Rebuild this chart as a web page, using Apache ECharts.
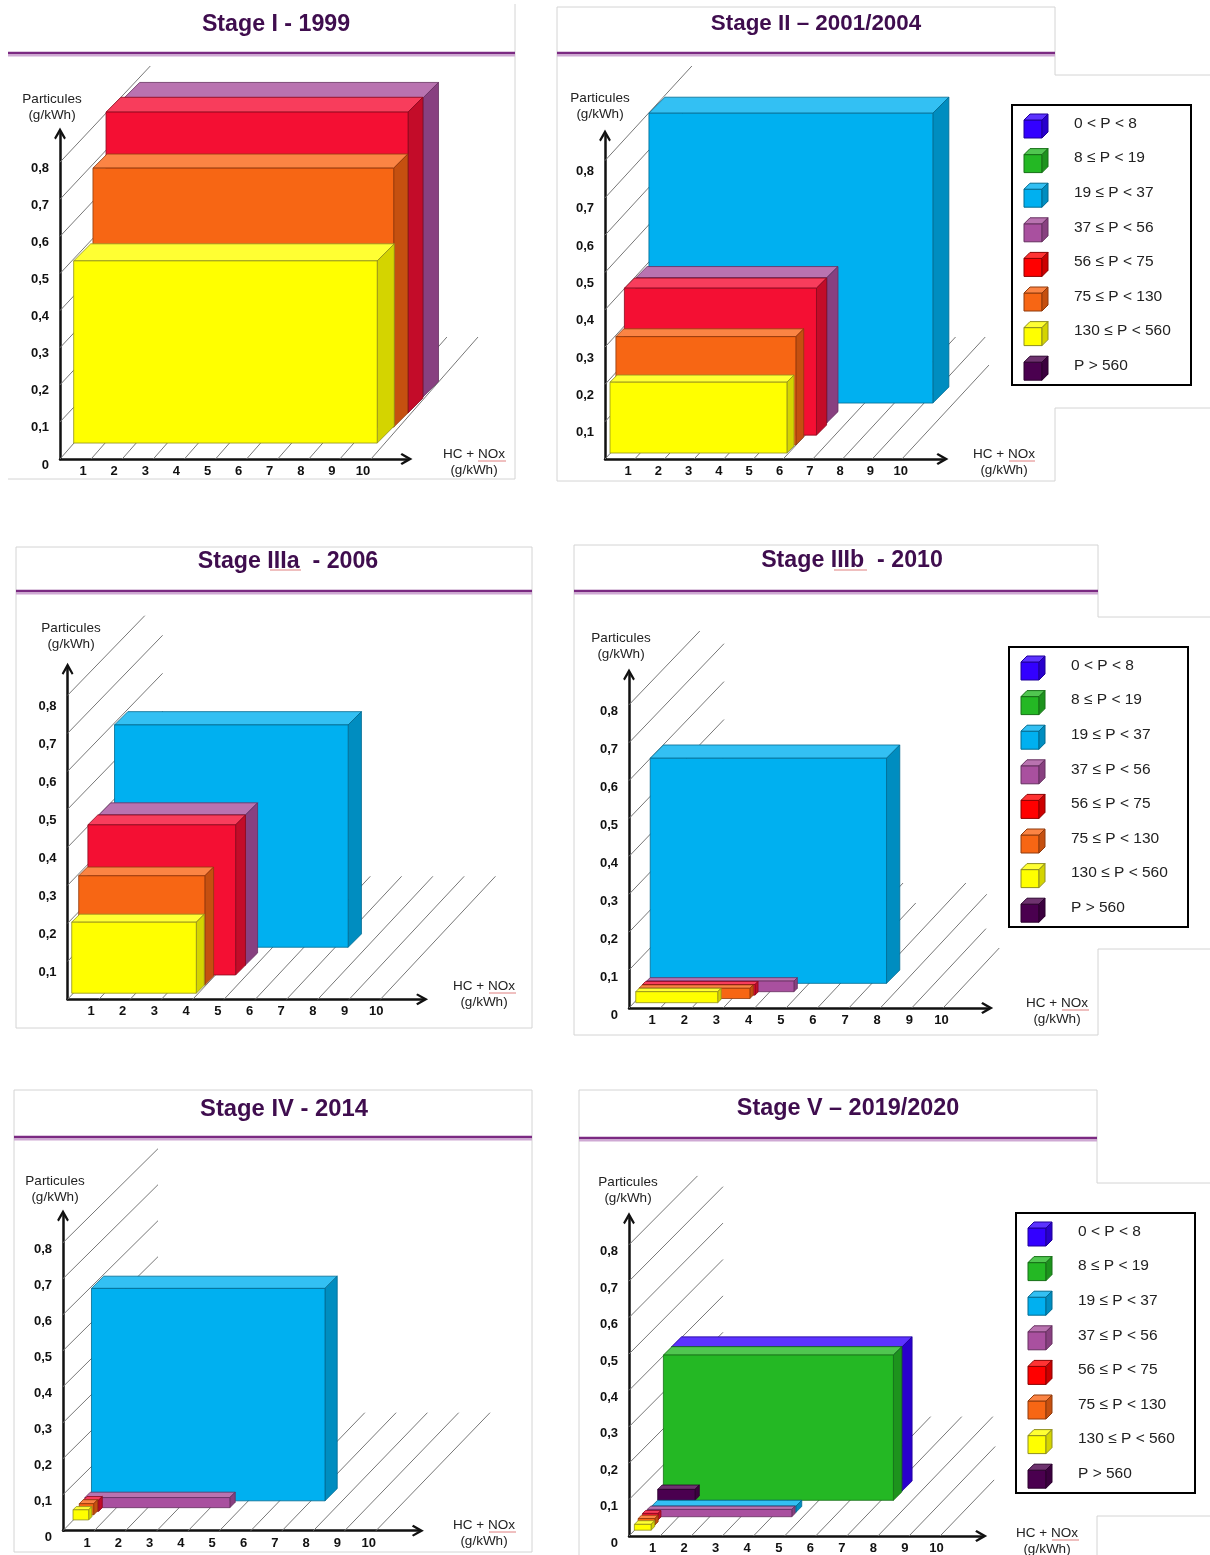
<!DOCTYPE html>
<html>
<head>
<meta charset="utf-8">
<title>Stages</title>
<script src="https://cdn.jsdelivr.net/npm/echarts@6/dist/echarts.min.js"></script>
<style>
  html, body { margin: 0; padding: 0; background: #fff; }
  #main { width: 1210px; height: 1555px; }
</style>
</head>
<body>
<div id="main"></div>
<script>
const FONT = '"Liberation Sans", Arial, sans-serif';

const xTickLabels = ['1', '2', '3', '4', '5', '6', '7', '8', '9', '10'];
const yTickLabels = ['0', '0,1', '0,2', '0,3', '0,4', '0,5', '0,6', '0,7', '0,8'];
const legendLabels = ['0 < P < 8', '8 ≤ P < 19', '19 ≤ P < 37', '37 ≤ P < 56', '56 ≤ P < 75', '75 ≤ P < 130', '130 ≤ P < 560', 'P > 560'];

// power classes, same order as the legend
const VIOLET = 0, GREEN = 1, CYAN = 2, PURPLE = 3, RED = 4, ORANGE = 5, YELLOW = 6, DARK = 7;

// each row: class, x start, HC+NOx width, y start, particules height, depth. back to front
const stage1 = [
  [PURPLE, 2.06, 9.61, 0.167, 0.806, 0.042],
  [RED, 1.48, 9.71, 0.124, 0.811, 0.040],
  [ORANGE, 1.06, 9.67, 0.086, 0.698, 0.038],
  [YELLOW, 0.44, 9.76, 0.043, 0.491, 0.046]
];
const stage2 = [
  [CYAN, 1.45, 9.37, 0.150, 0.777, 0.043],
  [PURPLE, 1.02, 6.30, 0.097, 0.389, 0.030],
  [RED, 0.64, 6.34, 0.064, 0.394, 0.027],
  [ORANGE, 0.36, 5.94, 0.038, 0.290, 0.021],
  [YELLOW, 0.165, 5.84, 0.016, 0.190, 0.019]
];
const stage3a = [
  [CYAN, 1.48, 7.37, 0.137, 0.585, 0.035],
  [PURPLE, 0.98, 4.63, 0.090, 0.395, 0.032],
  [RED, 0.64, 4.66, 0.064, 0.395, 0.026],
  [ORANGE, 0.35, 3.98, 0.038, 0.287, 0.023],
  [YELLOW, 0.13, 3.93, 0.016, 0.187, 0.021]
];
const stage3b = [
  [CYAN, 0.66, 7.35, 0.065, 0.594, 0.035],
  [PURPLE, 0.55, 4.58, 0.043, 0.028, 0.009],
  [RED, 0.42, 3.50, 0.034, 0.028, 0.008],
  [ORANGE, 0.31, 3.45, 0.025, 0.027, 0.009],
  [YELLOW, 0.21, 2.55, 0.014, 0.029, 0.009]
];
const stage4 = [
  [CYAN, 0.91, 7.46, 0.083, 0.590, 0.034],
  [PURPLE, 0.70, 4.63, 0.064, 0.028, 0.015],
  [RED, 0.65, 0.49, 0.054, 0.031, 0.010],
  [ORANGE, 0.52, 0.46, 0.044, 0.031, 0.011],
  [YELLOW, 0.32, 0.50, 0.030, 0.028, 0.009]
];
const stage5 = [
  [VIOLET, 1.35, 7.31, 0.124, 0.396, 0.027],
  [GREEN, 1.09, 7.29, 0.098, 0.399, 0.023],
  [DARK, 0.91, 1.18, 0.098, 0.030, 0.012],
  [CYAN, 0.72, 4.57, 0.065, 0.017, 0.016],
  [PURPLE, 0.58, 4.58, 0.053, 0.020, 0.009],
  [RED, 0.43, 0.49, 0.044, 0.018, 0.008],
  [ORANGE, 0.29, 0.53, 0.030, 0.018, 0.009],
  [YELLOW, 0.17, 0.53, 0.016, 0.016, 0.010]
];

const colors = [
  { front: '#3300ff', top: '#5c33ff', side: '#2900cc', line: '#1f0099' },
  { front: '#24b824', top: '#50c650', side: '#1d931d', line: '#177017' },
  { front: '#00b0f0', top: '#33c0f3', side: '#008dc0', line: '#006a90' },
  { front: '#a9509f', top: '#b973b0', side: '#884080', line: '#663060' },
  { front: '#f40f33', top: '#f83d5c', side: '#c30c29', line: '#8a0a1e' },
  { front: '#f76614', top: '#fb8444', side: '#c55010', line: '#8f3a0c' },
  { front: '#ffff00', top: '#ffff33', side: '#d4d400', line: '#8f8f20' },
  { front: '#4a004f', top: '#6e336f', side: '#3b003f', line: '#2a002d' }
];
const legendRed = { front: '#ff0000', top: '#ff3333', side: '#cc0000', line: '#8a0000' };

const panels = [
  { title: 'Stage I - 1999', titleSize: 23.2, boxes: stage1, cx: 276, ty: 24, lineY: 53, x1: 8, x2: 515,
    ox: 60, oy: 459, w: 352, h: 331, sx: 31.1, sy: 371, shiftX: 8, shiftY: 6, pitch: 1,
    fdx: 107, fdy: 122, wdx: 92, wdy: 98, wallTop: 66,
    pName: [52, 107], hName: [474, 462], nox: [478, 506, 461],
    frame: [[[515, 4], [515, 479], [8, 479]]] },
  { title: 'Stage II – 2001/2004', titleSize: 22.4, boxes: stage2, cx: 816, ty: 23, lineY: 53, x1: 557, x2: 1055,
    ox: 605, oy: 459, w: 343, h: 329, sx: 30.3, sy: 373, shiftX: 7.3, shiftY: 11, pitch: 0.98,
    fdx: 113, fdy: 122, wdx: 90, wdy: 98, wallTop: 66, floorLen: { 10: 0.77 },
    pName: [600, 106], hName: [1004, 462], nox: [1009, 1035, 461], legend: [1012, 105],
    frame: [[[1210, 75], [1055, 75], [1055, 7], [557, 7], [557, 481], [1055, 481], [1055, 408], [1210, 408]]] },
  { title: 'Stage IIIa  - 2006', titleSize: 23.2, boxes: stage3a, cx: 288, ty: 561, lineY: 591, x1: 16, x2: 532,
    ox: 67.6, oy: 999.3, w: 360, h: 336, sx: 31.7, sy: 380, shiftX: 8.3, shiftY: 11.5, pitch: 0.987,
    fdx: 115, fdy: 123, wdx: 95, wdy: 98, wallTop: 615.7,
    pName: [71, 636], hName: [484, 994], nox: [489, 516, 993], squiggle: [270, 301, 570],
    frame: [[[16, 547], [532, 547], [532, 1028], [16, 1028], [16, 547]]] },
  { title: 'Stage IIIb  - 2010', titleSize: 23.2, boxes: stage3b, cx: 852, ty: 560, lineY: 591, x1: 574, x2: 1098,
    ox: 629, oy: 1008, w: 363.7, h: 339, sx: 32.15, sy: 379, shiftX: 9, shiftY: 7, pitch: 0.977,
    fdx: 117, fdy: 125, wdx: 95, wdy: 99, wallTop: 631, floorLen: { 6: 0.84, 8: 0.91, 9: 0.635, 10: 0.48 },
    pName: [621, 646], hName: [1057, 1011], nox: [1062, 1089, 1010], legend: [1009, 647], squiggle: [834, 867, 570],
    frame: [[[1210, 617], [1098, 617], [1098, 545], [574, 545], [574, 1035], [1098, 1035], [1098, 949], [1210, 949]]] },
  { title: 'Stage IV - 2014', titleSize: 23.8, boxes: stage4, cx: 284, ty: 1108, lineY: 1137, x1: 14, x2: 532,
    ox: 63, oy: 1530.7, w: 360.4, h: 320.7, sx: 31.3, sy: 360, shiftX: 7.3, shiftY: 7, pitch: 1,
    fdx: 114, fdy: 118, wdx: 95, wdy: 94, wallTop: 1148,
    pName: [55, 1189], hName: [484, 1533], nox: [489, 516, 1532],
    frame: [[[14, 1090], [532, 1090], [532, 1552], [14, 1552], [14, 1090]]] },
  { title: 'Stage V – 2019/2020', titleSize: 23.4, boxes: stage5, cx: 848, ty: 1108, lineY: 1138, x1: 579, x2: 1097,
    ox: 629, oy: 1537.7, w: 357.7, h: 325, sx: 31.55, sy: 366, shiftX: 8, shiftY: 7, pitch: 0.986,
    fdx: 115, fdy: 120, wdx: 94, wdy: 95, wallTop: 1175.7, floorLen: { 9: 0.75, 10: 0.47 },
    pName: [628, 1190], hName: [1047, 1541], nox: [1052, 1079, 1540], legend: [1016, 1213],
    frame: [[[1210, 1183], [1097, 1183], [1097, 1090], [579, 1090], [579, 1555]], [[1097, 1555], [1097, 1516], [1210, 1516]]] }
];

const myChart = echarts.init(document.getElementById('main'));

function text(str, x, y, size, fill, align, bold) {
  return {
    type: 'text', silent: true, z: 20,
    style: { text: str, x: x, y: y, fill: fill, align: align || 'center', verticalAlign: 'middle',
      font: (bold ? 'bold ' : '') + size + 'px ' + FONT }
  };
}
function poly(points, fill, stroke, lineWidth) {
  return {
    type: 'polygon', silent: true, z: 20,
    shape: { points: points },
    style: { fill: fill, stroke: stroke, lineWidth: lineWidth }
  };
}
function line(points, stroke, lineWidth) {
  return {
    type: 'polyline', silent: true, z: 1,
    shape: { points: points },
    style: { fill: null, stroke: stroke, lineWidth: lineWidth }
  };
}

function legendGraphics(left, top) {
  const out = [{
    type: 'rect', silent: true, z: 19,
    shape: { x: left, y: top, width: 179, height: 280 },
    style: { fill: '#fff', stroke: '#000', lineWidth: 2 }
  }];
  legendLabels.forEach(function (label, i) {
    const c = i === RED ? legendRed : colors[i];
    const x = left + 12, y = top + 15 + i * 34.6, s = 18, d = 6;
    out.push(poly([[x, y], [x + s, y], [x + s, y + s], [x, y + s]], c.front, c.line, 1));
    out.push(poly([[x, y], [x + s, y], [x + s + d, y - d], [x + d, y - d]], c.top, c.line, 1));
    out.push(poly([[x + s, y], [x + s + d, y - d], [x + s + d, y + s - d], [x + s, y + s]], c.side, c.line, 1));
    out.push(text(label, left + 62, top + 18.5 + i * 34.6, 15.5, '#222', 'left'));
  });
  return out;
}

const graphics = [];
panels.forEach(function (p) {
  p.frame.forEach(function (pts) { graphics.push(line(pts, '#d4d4d4', 1)); });
  graphics.push(line([[p.x1, p.lineY + 2.5], [p.x2, p.lineY + 2.5]], '#cfa9d4', 2));
  graphics.push(line([[p.x1, p.lineY], [p.x2, p.lineY]], '#7b2a82', 2.4));
  graphics.push(text('Particules', p.pName[0], p.pName[1] - 8, 13.5, '#222'));
  graphics.push(text('(g/kWh)', p.pName[0], p.pName[1] + 8, 13.5, '#222'));
  graphics.push(text('HC + NOx', p.hName[0], p.hName[1] - 8, 13.5, '#222'));
  graphics.push(text('(g/kWh)', p.hName[0], p.hName[1] + 8, 13.5, '#222'));
  graphics.push(line([[p.nox[0], p.nox[2]], [p.nox[1], p.nox[2]]], '#e08080', 1));
  if (p.squiggle) {
    graphics.push(line([[p.squiggle[0], p.squiggle[2]], [p.squiggle[1], p.squiggle[2]]], '#e08080', 1));
  }
  if (p.legend) {
    legendGraphics(p.legend[0], p.legend[1]).forEach(function (g) { graphics.push(g); });
  }
});

// hatch rows: kind (0 floor, 1 wall), tick
function hatchRows() {
  const rows = [];
  for (let k = 0; k <= 10; k++) rows.push([0, k]);
  for (let v = 1; v < yTickLabels.length; v++) rows.push([1, v / 10]);
  return rows;
}

function renderHatch(p) {
  return function (params, api) {
    const kind = api.value(0), tick = api.value(1);
    let from, to;
    if (kind === 0) {
      const t = (p.floorLen && p.floorLen[tick]) || 1;
      const base = tick * p.pitch;
      from = api.coord([base, 0]);
      to = api.coord([base + t * p.fdx / p.sx, t * p.fdy / p.sy]);
    } else {
      const topV = (p.oy - p.wallTop) / p.sy;
      const t = Math.min(1, (topV - tick) / (p.wdy / p.sy));
      from = api.coord([0, tick]);
      to = api.coord([t * p.wdx / p.sx, tick + t * p.wdy / p.sy]);
    }
    return {
      type: 'line',
      shape: { x1: from[0], y1: from[1], x2: to[0], y2: to[1] },
      style: { stroke: '#777', lineWidth: 1 }
    };
  };
}

function renderBox(p) {
  return function (params, api) {
    const c = colors[api.value(0)];
    const x0 = api.value(1), x1 = x0 + api.value(2);
    const y0 = api.value(3), y1 = y0 + api.value(4);
    const d = api.value(5);
    const dx = d * p.sy / p.sx;
    const a = api.coord([x0, y0]), b = api.coord([x1, y0]), e = api.coord([x1, y1]), f = api.coord([x0, y1]);
    const g = api.coord([x1 + dx, y0 + d]), h = api.coord([x1 + dx, y1 + d]), i = api.coord([x0 + dx, y1 + d]);
    const face = function (points, fill) {
      return { type: 'polygon', shape: { points: points }, style: { fill: fill, stroke: c.line, lineWidth: 0.8 } };
    };
    return {
      type: 'group',
      children: [face([f, e, h, i], c.top), face([b, g, h, e], c.side), face([a, b, e, f], c.front)]
    };
  };
}

const ARROW = 'path://M5 0L10 9 8.6 10.2 5 4.2 1.4 10.2 0 9Z';
// the arrow symbol sticks out past the axis end by this much
const ARROW_OUT = 5.5;

const option = {
  animation: false,
  backgroundColor: '#fff',
  title: panels.map(function (p) {
    return {
      text: p.title, left: p.cx, top: p.ty - 10.5, textAlign: 'center', padding: 0,
      textStyle: { fontFamily: FONT, fontSize: p.titleSize, fontWeight: 'bold', color: '#3f0d4e' }
    };
  }),
  graphic: { elements: graphics },
  grid: panels.map(function (p) {
    return { left: p.ox, top: p.oy - p.h + ARROW_OUT, width: p.w - ARROW_OUT, height: p.h - ARROW_OUT };
  }),
  xAxis: panels.map(function (p, i) {
    return {
      type: 'value', gridIndex: i, min: 0, max: (p.w - ARROW_OUT) / p.sx, interval: 1,
      splitLine: { show: false }, axisTick: { show: false },
      axisLine: { onZero: false, symbol: ['none', ARROW], symbolSize: [12, 12], lineStyle: { color: '#111', width: 2.5 } },
      axisLabel: {
        margin: 6, color: '#111', fontFamily: FONT, fontSize: 13, fontWeight: 'bold',
        padding: [0, 2 * p.shiftX, 0, 0], showMaxLabel: false,
        formatter: function (v) { return xTickLabels[v - 1] || ''; }
      }
    };
  }),
  yAxis: panels.map(function (p, i) {
    return {
      type: 'value', gridIndex: i, min: 0, max: (p.h - ARROW_OUT) / p.sy, interval: 0.1,
      splitLine: { show: false }, axisTick: { show: false },
      axisLine: { onZero: false, symbol: ['none', ARROW], symbolSize: [12, 12], lineStyle: { color: '#111', width: 2.5 } },
      axisLabel: {
        margin: 11, color: '#111', fontFamily: FONT, fontSize: 13, fontWeight: 'bold',
        // empty first line pushes the label below its tick, as in the 3D original
        lineHeight: 2 * p.shiftY, showMaxLabel: false,
        formatter: function (v) {
          const label = yTickLabels[Math.round(v * 10)];
          return label ? '\n' + label : '';
        }
      }
    };
  }),
  series: []
};

panels.forEach(function (p, i) {
  option.series.push({
    type: 'custom', name: p.title + ' hatch', xAxisIndex: i, yAxisIndex: i, silent: true, z: 1,
    renderItem: renderHatch(p), data: hatchRows(), encode: { x: 1, y: 1 }
  });
  option.series.push({
    type: 'custom', name: p.title, xAxisIndex: i, yAxisIndex: i, silent: true, z: 3,
    renderItem: renderBox(p), data: p.boxes, encode: { x: 1, y: 3 }
  });
});

myChart.setOption(option);

window.addEventListener('resize', function () {
  myChart.resize();
});
</script>
</body>
</html>
